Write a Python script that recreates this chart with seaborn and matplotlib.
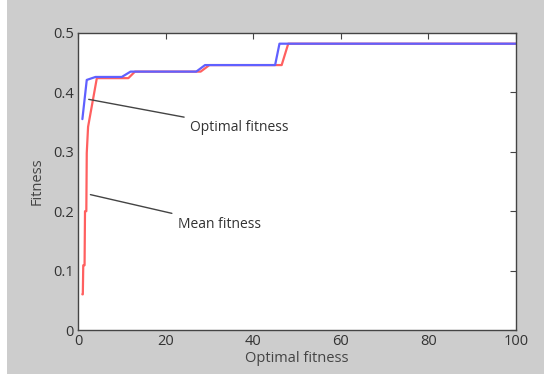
import numpy as np
import pandas as pd
import matplotlib
matplotlib.use('Agg')
import matplotlib.pyplot as plt
import seaborn as sns
from matplotlib.patches import Rectangle

# values (generation, fitness)
opt_x = [1, 2, 4, 10, 12, 27, 29, 45, 46, 100]
opt_y = [0.355, 0.421, 0.426, 0.426, 0.435, 0.435, 0.446, 0.446, 0.482, 0.482]

mean_x = [1, 1.1, 1.2, 1.5, 1.6, 1.9, 2.0, 2.3, 4.3, 11.5, 13, 28, 30, 46.5, 48, 100]
mean_y = [0.06, 0.06, 0.109, 0.109, 0.2, 0.2, 0.298, 0.342, 0.424, 0.424, 0.435, 0.435, 0.446, 0.446, 0.482, 0.482]

x_ticks = [0, 20, 40, 60, 80, 100]
y_ticks = [0, 0.1, 0.2, 0.3, 0.4, 0.5]
y_tick_labels = ['0', '0.1', '0.2', '0.3', '0.4', '0.5']

df_opt = pd.DataFrame({'gen': opt_x, 'fit': opt_y})
df_mean = pd.DataFrame({'gen': mean_x, 'fit': mean_y})

sns.set_style('white')
plt.rcParams['font.family'] = ['Open Sans', 'DejaVu Sans']

fig = plt.figure(figsize=(5.44, 3.74), dpi=100, facecolor='#cdcdcd')
fig.patches.append(Rectangle((0, 0), 7 / 544, 1, transform=fig.transFigure,
                             facecolor='white', edgecolor='none', zorder=-1))
ax = fig.add_axes([78 / 544, 44 / 374, 438 / 544, 297 / 374])
ax.set_facecolor('white')

sns.lineplot(data=df_mean, x='gen', y='fit', ax=ax, color='#ff6060', linewidth=1.6,
             estimator=None, sort=False)
sns.lineplot(data=df_opt, x='gen', y='fit', ax=ax, color='#6060ff', linewidth=1.6,
             estimator=None, sort=False)

ax.set_xlim(0, 100)
ax.set_ylim(0, 0.5)
ax.set_xticks(x_ticks)
ax.set_yticks(y_ticks)
ax.set_yticklabels(y_tick_labels)
ax.tick_params(direction='in', length=4, width=0.8, top=True, right=True,
               labelsize=10.5, labelcolor='#333333', color='#444444', pad=3)
for s in ax.spines.values():
    s.set_color('#444444')
    s.set_linewidth(1.0)

ax.set_xlabel('Optimal fitness', fontsize=10.5, color='#444444', labelpad=1)
ax.set_ylabel('Fitness', fontsize=10.5, color='#444444', labelpad=6)

ax.annotate('Optimal fitness', xy=(1.2, 0.39), xytext=(25.6, 0.341),
            fontsize=10, color='#333333', va='center',
            arrowprops=dict(arrowstyle='-', color='#444444', lw=1.0, shrinkB=4))
ax.annotate('Mean fitness', xy=(1.6, 0.23), xytext=(22.8, 0.178),
            fontsize=10, color='#333333', va='center',
            arrowprops=dict(arrowstyle='-', color='#444444', lw=1.0, shrinkB=4))

fig.savefig('out.png', dpi=100, facecolor=fig.get_facecolor())
